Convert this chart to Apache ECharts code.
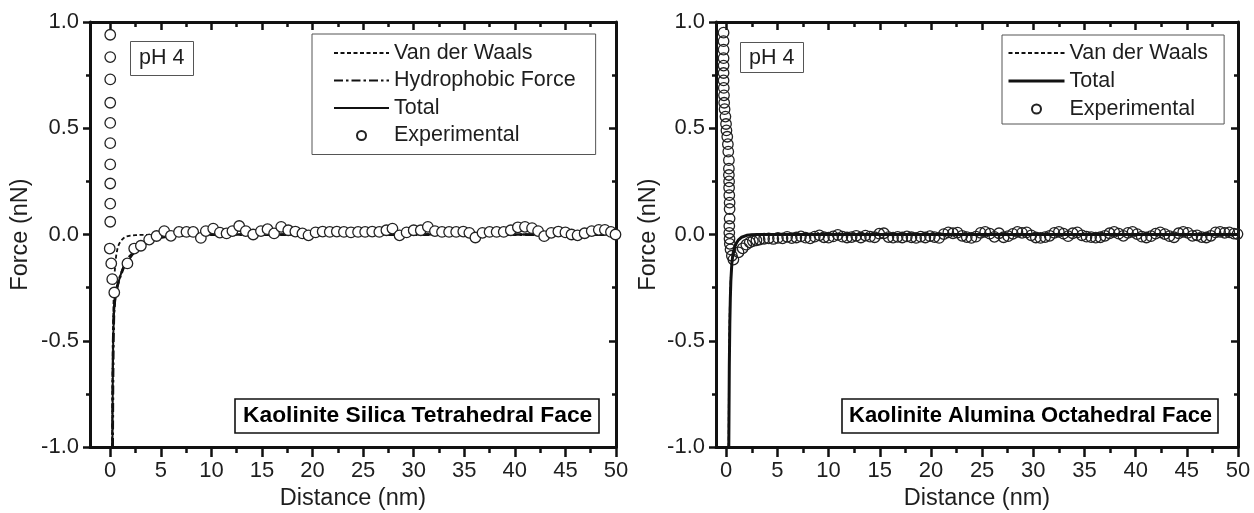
<!DOCTYPE html>
<html>
<head>
<meta charset="utf-8">
<script src="https://cdn.jsdelivr.net/npm/echarts@6/dist/echarts.min.js"></script>
<style>html,body{margin:0;padding:0;background:#fff}#c{width:1254px;height:513px}</style>
</head>
<body>
<div id="c"></div>
<script>
// ---------- data ----------
// x ticks
const xMajorTicks = [0,5,10,15,20,25,30,35,40,45,50];
const xMinorTicks = [2.5,7.5,12.5,17.5,22.5,27.5,32.5,37.5,42.5,47.5];
const yMajorTicks = [-1,-0.5,0,0.5,1];
const yMinorTicks = [-0.75,-0.25,0.25,0.75];

// Left panel: Kaolinite Silica Tetrahedral Face
const leftVdwX = [0.18,0.2,0.23,0.27,0.32,0.4,0.5,0.6,0.72,0.85,1.05,1.3,1.55,2.0,2.5,3.0,4.0,6.0,50];
const leftVdwY = [-1.0,-0.84,-0.64,-0.47,-0.33,-0.21,-0.135,-0.095,-0.066,-0.047,-0.03,-0.018,-0.01,-0.005,-0.003,-0.002,-0.001,0,0];

const leftHydroX = [0.23,0.26,0.3,0.36,0.45,0.6,0.8,1.0,1.4,1.9,2.5,3.2,4.0,5.0,6.5,9,50];
const leftHydroY = [-1.0,-0.72,-0.5,-0.37,-0.31,-0.26,-0.225,-0.195,-0.145,-0.105,-0.075,-0.05,-0.03,-0.014,-0.005,-0.001,0];

const leftTotalX = [0.22,0.25,0.3,0.38,0.5,0.7,0.9,1.2,1.7,2.2,2.8,3.4,4.0,5.0,6.0,8.0,10,50];
const leftTotalY = [-1.0,-0.7,-0.48,-0.36,-0.3,-0.25,-0.21,-0.165,-0.13,-0.095,-0.065,-0.045,-0.03,-0.014,-0.006,-0.002,0,0];

const leftExpX = [0,0,0,0,0,0,0,0,0,0,-0.05,0.1,0.2,0.4,1.7,2.37,3.03,3.85,4.58,5.34,6.0,6.8,7.54,8.2,8.96,9.45,10.18,10.84,11.5,12.08,12.75,13.4,14.13,14.9,15.55,16.2,16.9,17.6,18.3,19.0,19.6,20.3,21.0,21.7,22.4,23.1,23.8,24.5,25.2,25.9,26.6,27.3,27.9,28.6,29.3,30.0,30.7,31.4,32.1,32.8,33.5,34.2,34.9,35.5,36.1,36.8,37.5,38.2,38.9,39.6,40.3,41.0,41.7,42.3,42.9,43.6,44.3,45.0,45.6,46.2,46.9,47.6,48.3,48.9,49.5,49.95];
const leftExpY = [0.94,0.835,0.73,0.62,0.525,0.43,0.33,0.24,0.145,0.06,-0.066,-0.136,-0.21,-0.273,-0.136,-0.066,-0.053,-0.024,-0.007,0.016,-0.006,0.012,0.012,0.012,-0.016,0.016,0.028,0.009,0.005,0.016,0.04,0.016,0.0,0.016,0.025,0.005,0.036,0.02,0.014,0.005,-0.004,0.01,0.014,0.012,0.014,0.012,0.01,0.012,0.012,0.014,0.012,0.02,0.028,-0.004,0.01,0.02,0.02,0.036,0.016,0.012,0.012,0.012,0.014,0.008,-0.014,0.008,0.012,0.012,0.012,0.02,0.034,0.036,0.03,0.016,-0.008,0.008,0.014,0.01,0.0,-0.004,0.006,0.016,0.022,0.022,0.012,0.0];

// Right panel: Kaolinite Alumina Octahedral Face
const rightVdwX = [0.23,0.27,0.31,0.35,0.4,0.45,0.55,0.65,0.8,1.0,1.2,1.5,2.0,2.5,3.0,5.0,50];
const rightVdwY = [-1.0,-0.66,-0.46,-0.34,-0.26,-0.2,-0.13,-0.093,-0.06,-0.04,-0.025,-0.013,-0.004,-0.001,0,0,0];

const rightTotalX = [0.25,0.3,0.35,0.4,0.45,0.55,0.65,0.8,1.0,1.2,1.5,2.0,2.5,3.0,5.0,50];
const rightTotalY = [-1.0,-0.62,-0.42,-0.3,-0.22,-0.135,-0.095,-0.062,-0.04,-0.025,-0.013,-0.004,-0.001,0,0,0];

const rightExpX = [-0.26,-0.26,-0.26,-0.26,-0.26,-0.26,-0.26,-0.24,-0.22,-0.2,-0.16,-0.08,-0.02,0.02,0.1,0.16,0.2,0.26,0.26,0.26,0.28,0.28,0.3,0.33,0.33,0.33,0.3,0.3,0.32,0.35,0.42,0.55,0.7,1.2,1.6,1.96,2.3,2.6,2.95,3.26,
3.7,4.15,4.6,5.05,5.5,5.95,6.4,6.85,7.3,7.75,8.2,8.65,9.1,9.55,10.0,10.45,10.9,11.35,11.8,12.25,12.7,13.15,13.6,14.05,14.5,14.95,15.4,15.85,16.3,16.75,17.2,17.65,18.1,18.55,19.0,19.45,19.9,20.35,20.8,21.25,21.7,22.15,22.6,23.05,23.5,23.95,24.4,24.85,25.3,25.75,26.2,26.65,27.1,27.55,28.0,28.45,28.9,29.35,29.8,30.25,30.7,31.15,31.6,32.05,32.5,32.95,33.4,33.85,34.3,34.75,35.2,35.65,36.1,36.55,37.0,37.45,37.9,38.35,38.8,39.25,39.7,40.15,40.6,41.05,41.5,41.95,42.4,42.85,43.3,43.75,44.2,44.65,45.1,45.55,46.0,46.45,46.9,47.35,47.8,48.25,48.7,49.15,49.6,49.95];
const rightExpY = [0.95,0.91,0.87,0.83,0.795,0.76,0.725,0.69,0.655,0.62,0.59,0.555,0.52,0.49,0.46,0.425,0.39,0.35,0.31,0.28,0.25,0.22,0.185,0.15,0.12,0.075,0.04,0.008,-0.02,-0.044,-0.07,-0.1,-0.118,-0.084,-0.065,-0.048,-0.037,-0.031,-0.027,-0.024,
-0.02,-0.018,-0.021,-0.016,-0.018,-0.011,-0.017,-0.014,-0.009,-0.015,-0.018,-0.01,-0.004,-0.013,-0.015,-0.009,-0.002,-0.01,-0.014,-0.012,-0.006,-0.014,-0.005,-0.01,-0.013,0.004,0.006,-0.012,-0.015,-0.011,-0.014,-0.009,-0.013,-0.016,-0.01,-0.014,-0.008,-0.012,-0.016,0.002,0.01,0.006,0.009,-0.006,-0.012,-0.016,-0.01,0.008,0.012,0.004,-0.011,0.006,-0.013,-0.008,0.003,0.012,0.008,0.01,-0.004,-0.014,-0.016,-0.012,-0.006,0.008,0.012,0.004,-0.008,0.006,0.01,-0.004,-0.01,-0.012,-0.015,-0.013,-0.006,0.006,0.012,0.004,-0.006,0.008,0.012,0.002,-0.01,-0.014,-0.008,0.004,0.01,0.002,-0.008,-0.013,0.006,0.012,0.008,-0.006,-0.004,-0.012,-0.014,-0.006,0.01,0.012,0.008,0.01,0.004,0.002];

// ---------- styling ----------
const FONT = "'Liberation Sans', Arial, Helvetica, sans-serif";
const TXT = '#1e1e1e';
const AX = '#111';
const zip = (a, b) => a.map((v, i) => [v, b[i]]);

function xAxes(g, min) {
  const base = {gridIndex: g, type: 'value', min: min, max: 50, splitLine: {show: false}};
  return [
    Object.assign({}, base, {position: 'bottom',
      axisLine: {show: true, onZero: false, lineStyle: {color: AX, width: 3}},
      axisTick: {show: true, inside: false, length: 10, customValues: xMajorTicks, lineStyle: {color: AX, width: 2.5}},
      axisLabel: {show: true, customValues: xMajorTicks, margin: 13, fontSize: 22, color: TXT, fontFamily: FONT},
      name: 'Distance (nm)', nameLocation: 'middle', nameGap: 31,
      nameTextStyle: {fontSize: 23.5, color: TXT, fontFamily: FONT}}),
    Object.assign({}, base, {position: 'bottom',
      axisLine: {show: false, onZero: false},
      axisTick: {show: true, inside: false, length: 6, customValues: xMinorTicks, lineStyle: {color: AX, width: 2.5}},
      axisLabel: {show: false}}),
    Object.assign({}, base, {position: 'top',
      axisLine: {show: true, onZero: false, lineStyle: {color: AX, width: 3}},
      axisTick: {show: true, inside: true, length: 8, customValues: xMajorTicks, lineStyle: {color: AX, width: 2.5}},
      axisLabel: {show: false}}),
    Object.assign({}, base, {position: 'top',
      axisLine: {show: false, onZero: false},
      axisTick: {show: true, inside: true, length: 5, customValues: xMinorTicks, lineStyle: {color: AX, width: 2.5}},
      axisLabel: {show: false}})
  ];
}
function yAxes(g, nameGap) {
  const base = {gridIndex: g, type: 'value', min: -1, max: 1, interval: 0.5, splitLine: {show: false}};
  return [
    Object.assign({}, base, {position: 'left',
      axisLine: {show: true, onZero: false, lineStyle: {color: AX, width: 3}},
      axisTick: {show: true, inside: false, length: 7, customValues: yMajorTicks, lineStyle: {color: AX, width: 2.5}},
      axisLabel: {show: true, customValues: yMajorTicks, margin: 11, fontSize: 22, color: TXT, fontFamily: FONT,
                  formatter: v => Number(v).toFixed(1)},
      name: 'Force (nN)', nameLocation: 'middle', nameGap: nameGap,
      nameTextStyle: {fontSize: 23.5, color: TXT, fontFamily: FONT}}),
    Object.assign({}, base, {position: 'left',
      axisLine: {show: false, onZero: false},
      axisTick: {show: true, inside: false, length: 4, customValues: yMinorTicks, lineStyle: {color: AX, width: 2.5}},
      axisLabel: {show: false}}),
    Object.assign({}, base, {position: 'right',
      axisLine: {show: true, onZero: false, lineStyle: {color: AX, width: 3}},
      axisTick: {show: true, inside: true, length: 7, customValues: yMajorTicks, lineStyle: {color: AX, width: 2.5}},
      axisLabel: {show: false}}),
    Object.assign({}, base, {position: 'right',
      axisLine: {show: false, onZero: false},
      axisTick: {show: true, inside: true, length: 4, customValues: yMinorTicks, lineStyle: {color: AX, width: 2.5}},
      axisLabel: {show: false}})
  ];
}

const boxText = (text, left, top, pad, bold, size) => ({
  text: text, left: left, top: top, padding: pad,
  borderColor: bold ? '#111' : '#555', borderWidth: bold ? 1.6 : 1,
  textStyle: {fontSize: size, fontWeight: bold ? 'bold' : 'normal', color: bold ? '#000' : TXT, fontFamily: FONT, lineHeight: 24}
});

const expStyleLeft = {color: '#ffffff', borderColor: '#222', borderWidth: 1.3, opacity: 1};
const expStyleRight = {color: 'rgba(255,255,255,0)', borderColor: '#222', borderWidth: 1.3, opacity: 1};
const hideSym = {opacity: 0};

const option = {
  animation: false,
  backgroundColor: '#fff',
  grid: [
    {left: 90, right: 638, top: 22, bottom: 66, outerBoundsMode: 'none', containLabel: false},
    {left: 716, right: 16, top: 22, bottom: 66, outerBoundsMode: 'none', containLabel: false}
  ],
  xAxis: xAxes(0, -2).concat(xAxes(1, -1)),
  yAxis: yAxes(0, 57).concat(yAxes(1, 55)),
  title: [
    boxText('pH 4', 130, 41, [5, 9, 6, 9], false, 21.5),
    boxText('pH 4', 740, 42, [4, 9, 3, 9], false, 21.5),
    boxText('Kaolinite Silica Tetrahedral Face', 235, 399, [5, 7, 5, 8], true, 22.8),
    boxText('Kaolinite Alumina Octahedral Face', 842, 399, [5, 6, 5, 7], true, 22)
  ],
  legend: [
    {orient: 'vertical', left: 312, top: 34, padding: [8, 20, 8, 21], itemGap: 5.5,
     itemWidth: 55, itemHeight: 9, selectedMode: false,
     borderColor: '#555', borderWidth: 1,
     textStyle: {fontSize: 21.5, color: TXT, fontFamily: FONT, lineHeight: 21},
     data: [{name: 'Van der Waals', itemStyle: hideSym}, {name: 'Hydrophobic Force', itemStyle: hideSym},
            {name: 'Total', itemStyle: hideSym}, {name: 'Experimental'}]},
    {orient: 'vertical', left: 1002, top: 35, padding: [7, 16, 4, 5], itemGap: 6,
     itemWidth: 56, itemHeight: 9, selectedMode: false,
     borderColor: '#555', borderWidth: 1,
     textStyle: {fontSize: 21.5, color: TXT, fontFamily: FONT, lineHeight: 21},
     data: [{name: 'Van der Waals', itemStyle: hideSym}, {name: 'Total', itemStyle: hideSym, lineStyle: {width: 3}},
            {name: 'Experimental'}]}
  ],
  series: [
    {name: 'Van der Waals', type: 'line', xAxisIndex: 0, yAxisIndex: 0, data: zip(leftVdwX, leftVdwY),
     symbol: 'none', z: 3, itemStyle: {color: '#111'}, lineStyle: {color: '#111', width: 1.8, type: [4, 2.5]}},
    {name: 'Hydrophobic Force', type: 'line', xAxisIndex: 0, yAxisIndex: 0, data: zip(leftHydroX, leftHydroY),
     symbol: 'none', z: 2, itemStyle: {color: '#111'}, lineStyle: {color: '#111', width: 2.8, type: [9, 3, 2.5, 3]}},
    {name: 'Total', type: 'line', xAxisIndex: 0, yAxisIndex: 0, data: zip(leftTotalX, leftTotalY),
     symbol: 'none', z: 3, itemStyle: {color: '#111'}, lineStyle: {color: '#111', width: 2}},
    {name: 'Experimental', type: 'scatter', xAxisIndex: 0, yAxisIndex: 0, data: zip(leftExpX, leftExpY),
     symbol: 'circle', symbolSize: 10.5, z: 4, itemStyle: expStyleLeft},

    {name: 'Experimental', type: 'scatter', xAxisIndex: 4, yAxisIndex: 4, data: zip(rightExpX, rightExpY),
     symbol: 'circle', symbolSize: 10.5, z: 2, itemStyle: expStyleRight},
    {name: 'Van der Waals', type: 'line', xAxisIndex: 4, yAxisIndex: 4, data: zip(rightVdwX, rightVdwY),
     symbol: 'none', z: 3, itemStyle: {color: '#111'}, lineStyle: {color: '#111', width: 1.8, type: [4, 2.5]}},
    {name: 'Total', type: 'line', xAxisIndex: 4, yAxisIndex: 4, data: zip(rightTotalX, rightTotalY),
     symbol: 'none', z: 3, itemStyle: {color: '#111'}, lineStyle: {color: '#111', width: 3}}
  ]
};

const chart = echarts.init(document.getElementById('c'), null, {renderer: 'canvas'});
chart.setOption(option);
</script>
</body>
</html>
